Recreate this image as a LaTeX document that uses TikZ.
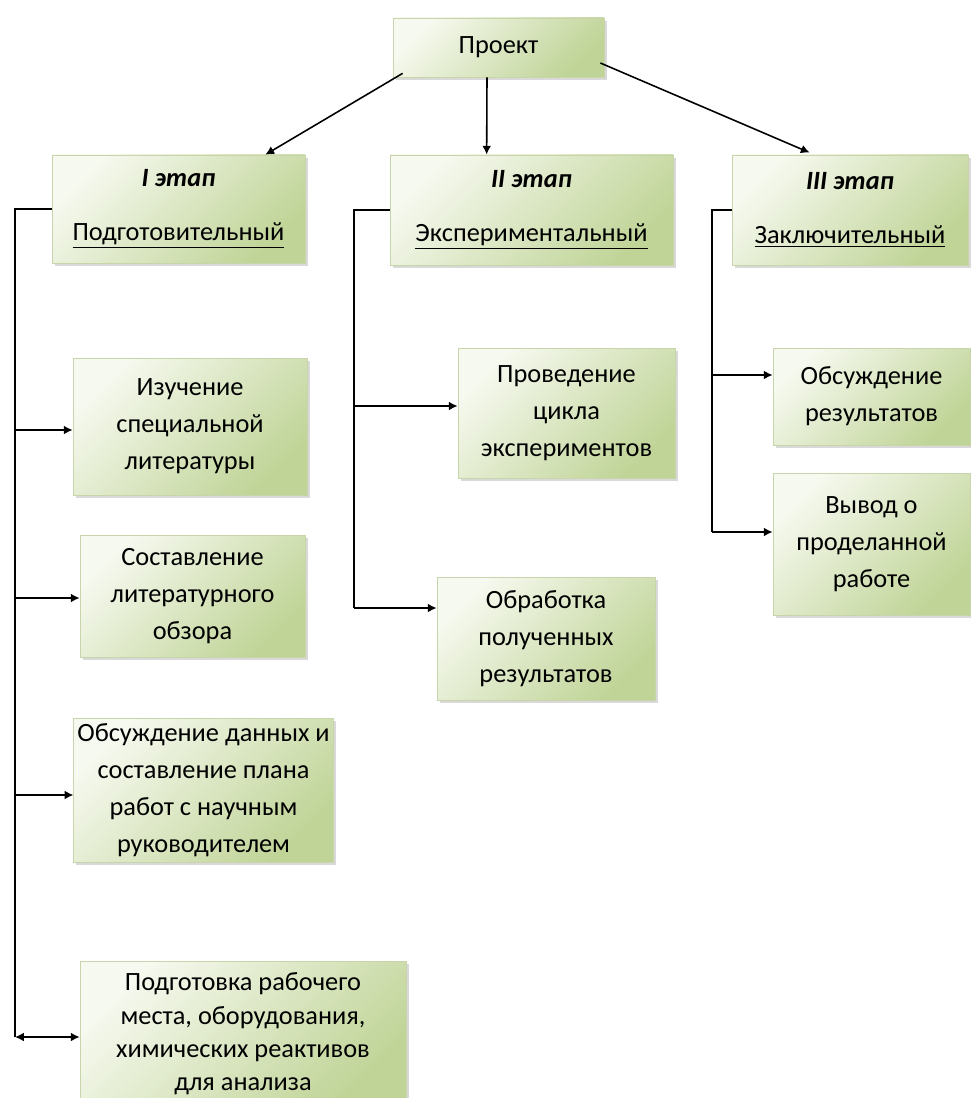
\documentclass[tikz,border=0pt]{standalone}
\usepackage{fontspec}
\setmainfont{Carlito}
\usetikzlibrary{calc, arrows.meta, shadows}
\definecolor{boxlight}{HTML}{F6F9EF}
\definecolor{boxdark}{HTML}{C0D497}
\definecolor{boxedge}{HTML}{C8D5AA}

\begin{document}
\begin{tikzpicture}[x=0.02cm, y=-0.02cm,
  box/.style={draw=boxedge, line width=0.4pt, top color=boxlight, bottom color=boxdark,
    shading angle=45, drop shadow={shadow xshift=1.5pt, shadow yshift=-1.5pt, opacity=0.3},
    align=center, inner sep=2pt, font=\fontsize{15}{21}\selectfont},
  wh/.style 2 args={minimum width=#1*0.02cm, minimum height=#2*0.02cm},
  arr/.style={-{Latex[length=5pt,width=5pt]}, line width=0.9pt}]
  \useasboundingbox (0,0) rectangle (970,1098);

  % top and stages
  \node[box, wh={211}{59}] (proj) at (498.5,47.5) {Проект};
  \node[box, wh={253}{108}] (st1) at (178.5,209) {\textbf{\textit{I этап}}\\[10pt]\underline{Подготовительный}};
  \node[box, wh={283}{110}] (st2) at (531.5,210) {\textbf{\textit{II этап}}\\[10pt]\underline{Экспериментальный}};
  \node[box, wh={236}{110}] (st3) at (850,210) {\textbf{\textit{III этап}}\\[10pt]\underline{Заключительный}};

  % stage I tasks
  \node[box, wh={234}{137}] (a1) at (190,426.5) {Изучение\\специальной\\литературы};
  \node[box, wh={225}{122}] (a2) at (192.5,596) {Составление\\литературного\\обзора};
  \node[box, wh={247}{144}] (a3) at (203.5,790) {Обсуждение данных и\\составление плана\\работ с научным\\руководителем};
  \node[box, wh={326}{146}, font=\fontsize{15}{19}\selectfont] (a4) at (243,1034) {Подготовка рабочего\\места, оборудования,\\химических реактивов\\для анализа};

  % stage II tasks
  \node[box, wh={217}{130}] (b1) at (566.5,413) {Проведение\\цикла\\экспериментов};
  \node[box, wh={218}{123}] (b2) at (546,638.5) {Обработка\\полученных\\результатов};

  % stage III tasks
  \node[box, wh={197}{97}] (c1) at (871.5,396.5) {Обсуждение\\результатов};
  \node[box, wh={197}{142}] (c2) at (871.5,544) {Вывод о\\проделанной\\работе};

  % from the project to the stages
  \draw[arr] ($(proj.south west)+(10,-4)$) -- ($(st1.north east)+(-40,0)$);
  \draw[arr] ($(proj.south)+(-11.5,0)$) -- ($(st2.north west)+(97,0)$);
  \draw[arr] ($(proj.east)+(-4,15.5)$) -- ($(st3.north west)+(78,-2)$);

  % trunks
  \coordinate (r1) at (15,1037);
  \coordinate (r2) at (354,608);
  \coordinate (r3) at (712,532);
  \draw[line width=0.9pt] (st1.west) -| (r1);
  \draw[line width=0.9pt] (st2.west) -| (r2);
  \draw[line width=0.9pt] (st3.west) -| (r3);

  % branches
  \foreach \n/\y in {a1/430, a2/598, a3/795}
    \draw[arr] (15,\y) -- (15,\y -| \n.west);
  \draw[{Latex[length=5pt,width=5pt]}-{Latex[length=5pt,width=5pt]}, line width=0.9pt] (r1) -- (r1 -| a4.west);
  \foreach \n/\y in {b1/406, b2/608}
    \draw[arr] (354,\y) -- (354,\y -| \n.west);
  \foreach \n/\y in {c1/375, c2/532}
    \draw[arr] (712,\y) -- (712,\y -| \n.west);
\end{tikzpicture}
\end{document}
